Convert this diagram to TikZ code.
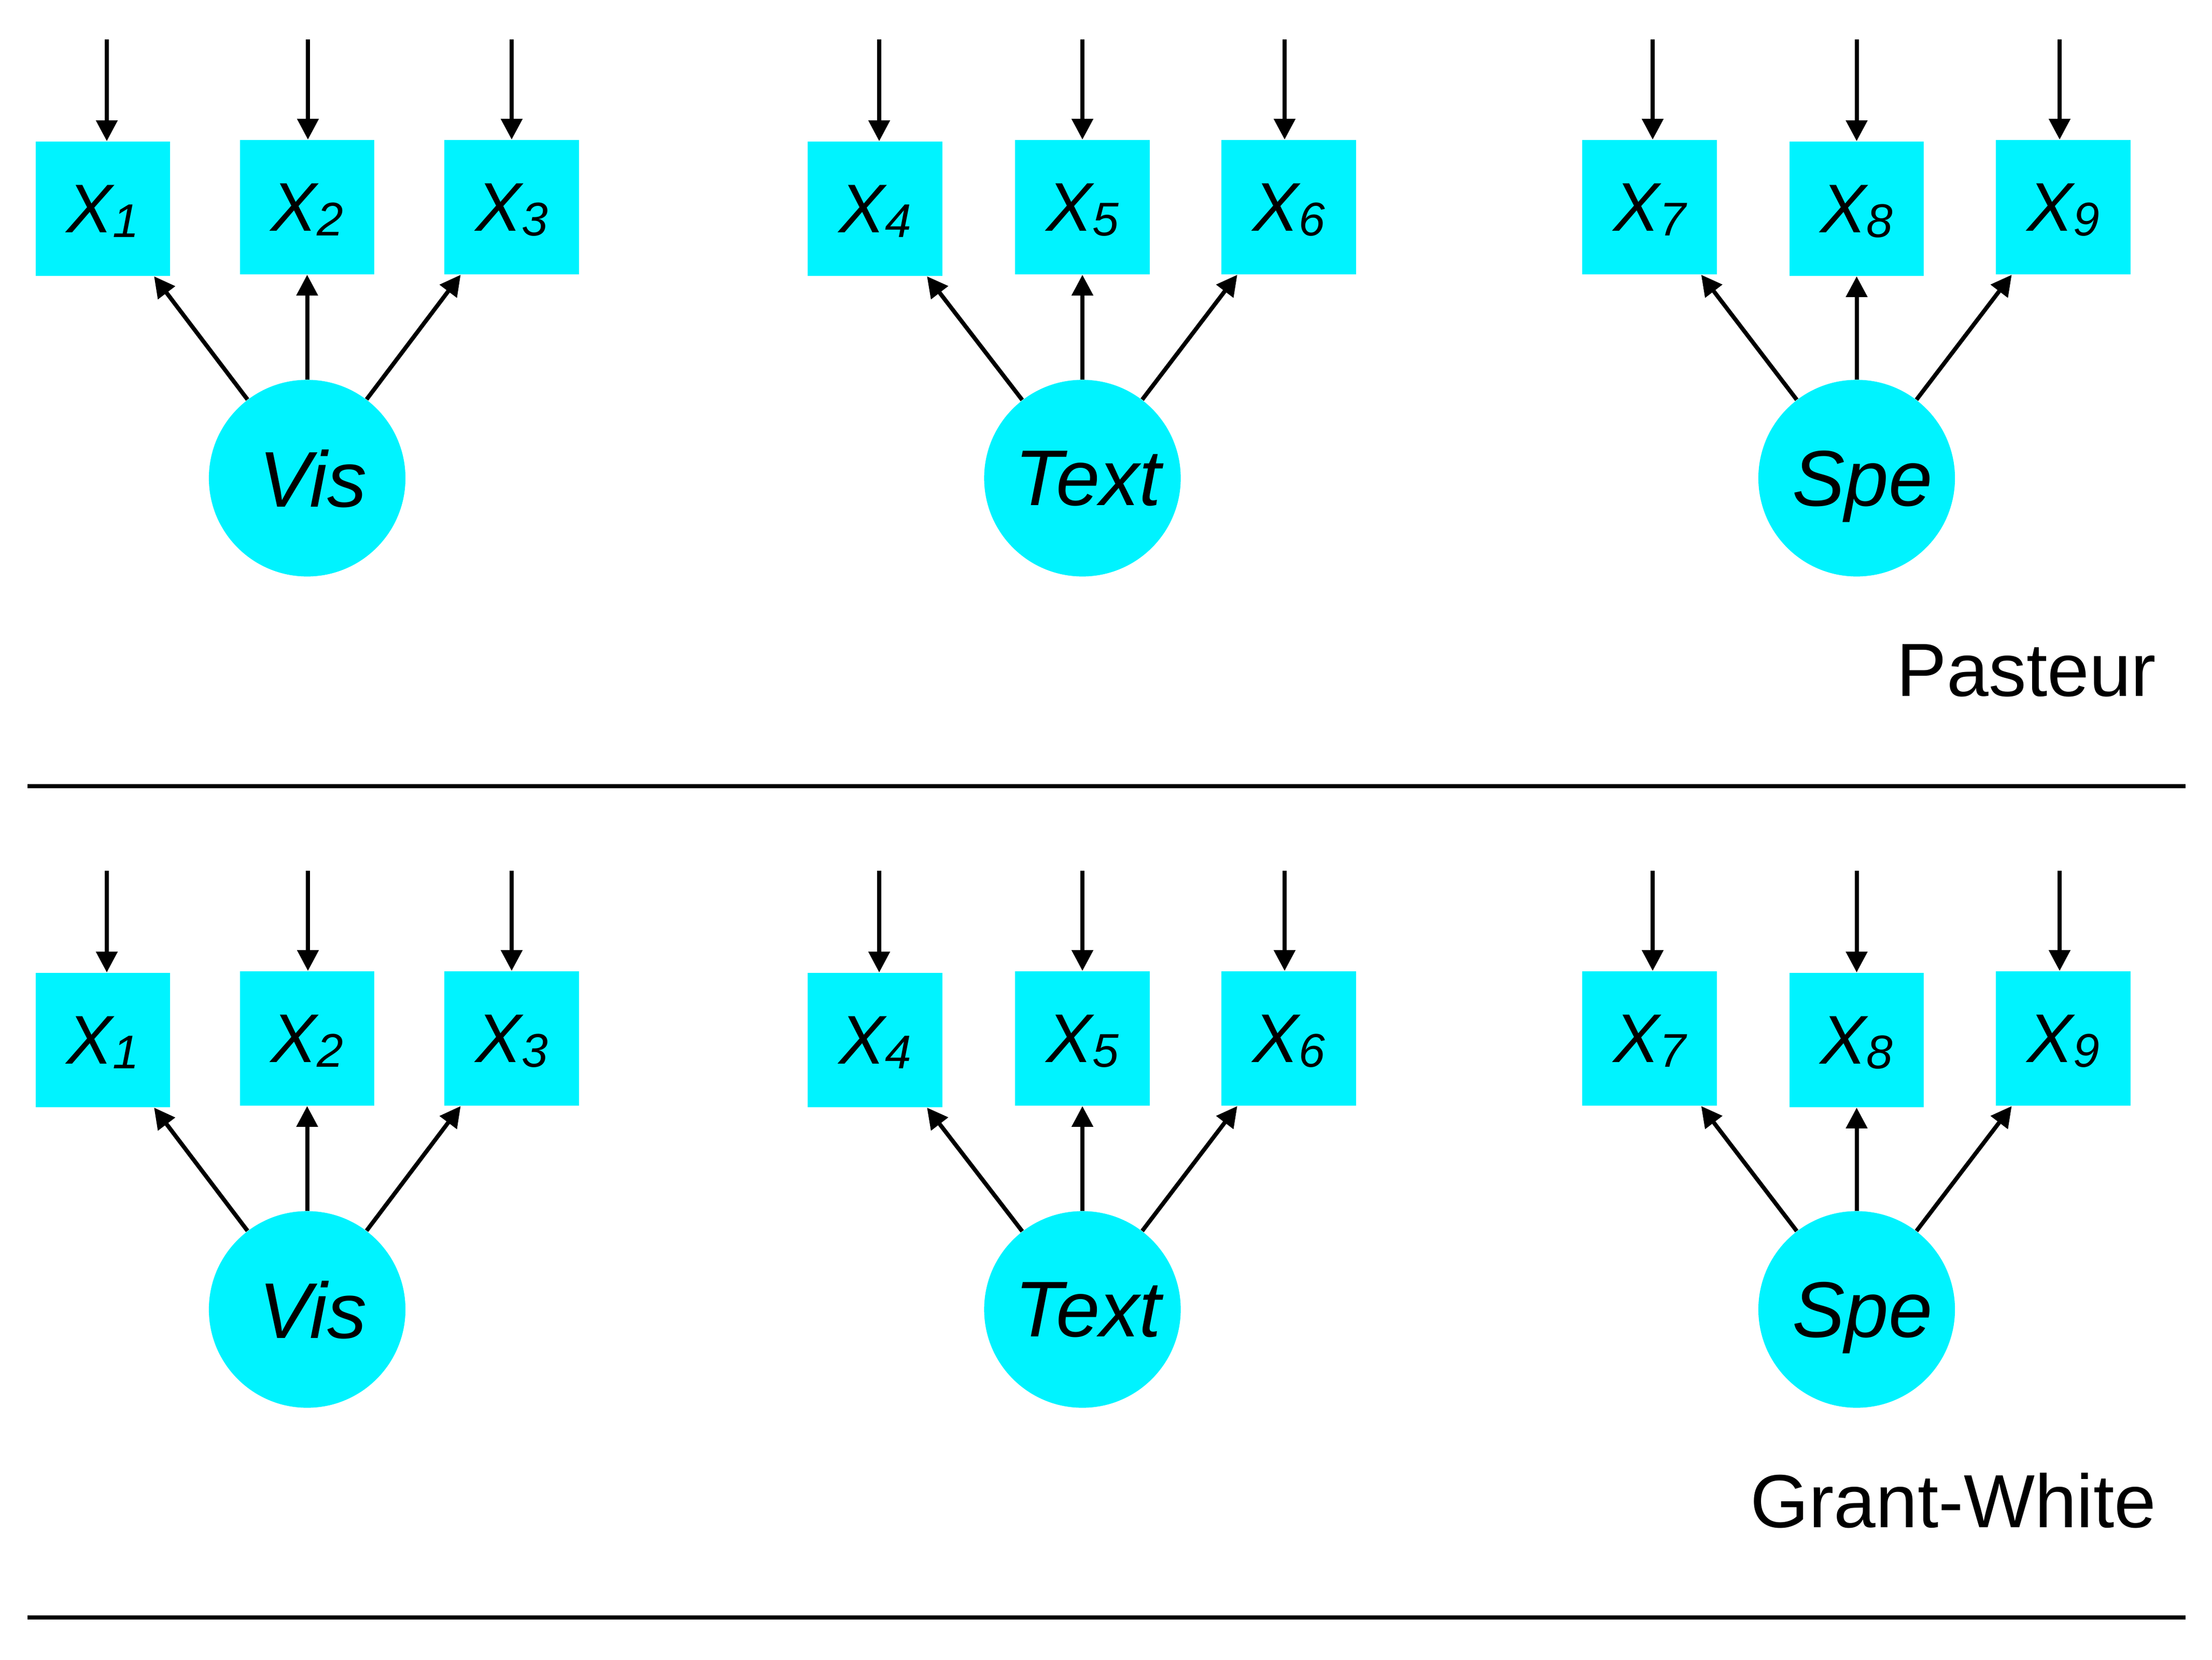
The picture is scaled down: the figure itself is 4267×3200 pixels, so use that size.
\documentclass[tikz,border=0pt]{standalone}
\usepackage{fontspec}
\setmainfont{Liberation Sans}
\usetikzlibrary{arrows.meta}
\definecolor{boxcyan}{HTML}{00F3FF}
\newcommand\xsub[1]{\raisebox{-0.09cm}{\fontsize{25.9pt}{27pt}\selectfont #1}}
\begin{document}
\begin{tikzpicture}[x=0.01cm,y=-0.01cm,
 obs/.style={fill=boxcyan, draw=none, inner sep=0pt, minimum width=2.59cm, minimum height=2.59cm, text depth=0pt, font=\fontsize{37.8pt}{40pt}\selectfont\itshape},
 lat/.style={circle, fill=boxcyan, draw=none, inner sep=0pt, minimum size=3.79cm, text depth=0pt, font=\fontsize{43.3pt}{46pt}\selectfont\itshape, execute at begin node={\kern0.22cm}},
 conn/.style={line width=0.08cm, -{Triangle[length=0.4cm,width=0.4cm]}},
 sepline/.style={line width=0.08cm},
 grp/.style={anchor=base east, inner sep=0pt, font=\fontsize{41.3pt}{44pt}\selectfont}]
\useasboundingbox (0,0) rectangle (4267,3200);
\foreach \r/\dy in {a/0,b/1603}{
\begin{scope}[shift={(0,\dy)}]
 \node[obs] (x1\r) at (198.5,402.5) {X\xsub{1}};
 \node[obs] (x2\r) at (592.5,399.5) {X\xsub{2}};
 \node[obs] (x3\r) at (987,399.5) {X\xsub{3}};
 \node[obs] (x4\r) at (1688,402.5) {X\xsub{4}};
 \node[obs] (x5\r) at (2088,399.5) {X\xsub{5}};
 \node[obs] (x6\r) at (2486,399.5) {X\xsub{6}};
 \node[obs] (x7\r) at (3182,399.5) {X\xsub{7}};
 \node[obs] (x8\r) at (3581.5,402.5) {X\xsub{8}};
 \node[obs] (x9\r) at (3980,399.5) {X\xsub{9}};
 \node[lat] (f1\r) at (592.5,922) {Vis};
 \node[lat] (f2\r) at (2088,922) {Text};
 \node[lat] (f3\r) at (3581.5,922) {Spe};
 \foreach \i/\ax in {1/206,2/594,3/987,4/1696,5/2088,6/2478,7/3188,8/3581.5,9/3973}{
   \coordinate (t\i\r) at (\ax,76);
   \draw[conn] (t\i\r) -- (t\i\r |- x\i\r.north);
 }
 \foreach \f/\a/\b/\c in {1/1/2/3,2/4/5/6,3/7/8/9}{
   \draw[conn] (f\f\r) -- (x\a\r);
   \draw[conn] (f\f\r) -- (x\b\r);
   \draw[conn] (f\f\r) -- (x\c\r);
 }
\end{scope}
}
\node[grp] (lab1) at (4160,1342) {Pasteur};
\node[grp] (lab2) at (4160,2945) {Grant-White};
\coordinate (s1l) at (53,1516);
\coordinate (s1r) at (4216,1516);
\coordinate (s2l) at (53,3119);
\coordinate (s2r) at (4216,3119);
\draw[sepline] (s1l) -- (s1r);
\draw[sepline] (s2l) -- (s2r);
\end{tikzpicture}
\end{document}
